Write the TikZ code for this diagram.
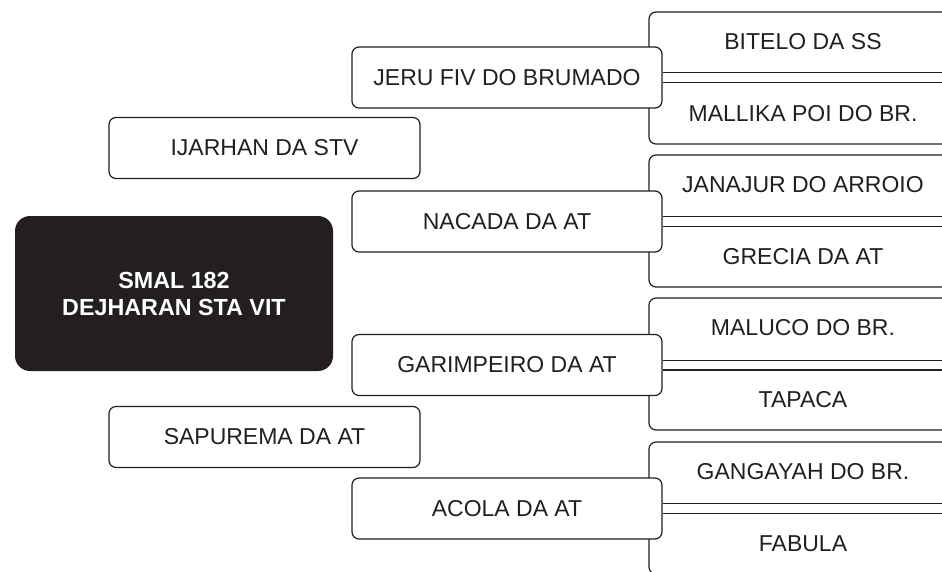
\documentclass[tikz,border=0pt]{standalone}
\usepackage{fontspec}
\setmainfont{Liberation Sans}
\definecolor{ink}{HTML}{231F20}

\tikzset{
  horse/.style={draw=ink, fill=white, rounded corners=7pt, line width=1.2pt,
    minimum width=310pt, minimum height=61pt, inner sep=0pt},
  couple/.style={draw=ink, rounded corners=7pt, line width=1.2pt,
    minimum width=308pt, minimum height=132pt, inner sep=0pt},
  mated/.style={draw=ink, line width=1.2pt, double=white, double distance=8.6pt},
  subject/.style={fill=ink, text=white, rounded corners=15pt, align=center,
    minimum width=318pt, minimum height=155pt, font=\fontsize{23.3}{27}\selectfont\bfseries},
}

\begin{document}
\begin{tikzpicture}[x=1pt,y=-1pt,color=ink,font=\fontsize{23}{27}\selectfont]
\clip (0,0) rectangle (942,571);
\fill[white] (0,0) rectangle (942,571);

% great-grandparents
\node[couple] (pairA) at (803,78) {};
\node[couple] (pairB) at (803,221) {};
\node[couple] (pairC) at (803,364) {};
\node[couple] (pairD) at (803,508) {};

\node (ggA1) at (803,42) {BITELO DA SS};
\node (ggA2) at (803,114) {MALLIKA POI DO BR.};
\node (ggB1) at (803,185) {JANAJUR DO ARROIO};
\node (ggB2) at (803,257) {GRECIA DA AT};
\node (ggC1) at (803,328) {MALUCO DO BR.};
\node (ggC2) at (803,400) {TAPACA};
\node (ggD1) at (803,472) {GANGAYAH DO BR.};
\node (ggD2) at (803,544) {FABULA};

% grandparents
\node[horse] (gpA) at (507,77.5) {JERU FIV DO BRUMADO};
\node[horse] (gpB) at (507,221.5) {NACADA DA AT};
\node[horse] (gpC) at (507,365) {GARIMPEIRO DA AT};
\node[horse] (gpD) at (507,508.5) {ACOLA DA AT};

\draw[mated] (gpA.east) -- (gpA.east -| pairA.east);
\draw[mated] (gpB.east) -- (gpB.east -| pairB.east);
\draw[mated] (gpC.east) -- (gpC.east -| pairC.east);
\draw[mated] (gpD.east) -- (gpD.east -| pairD.east);

% parents
\node[horse, minimum width=311pt] (sire) at (264.5,148) {IJARHAN DA STV};
\node[horse, minimum width=311pt] (dam) at (264.5,437) {SAPUREMA DA AT};

% the animal itself
\node[subject] (self) at (174,293.5) {SMAL 182\\DEJHARAN STA VIT};
\end{tikzpicture}
\end{document}
